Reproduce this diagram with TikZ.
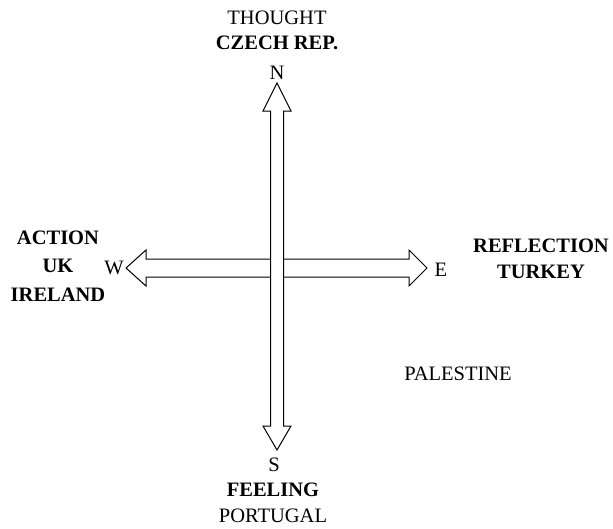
\documentclass[tikz,border=0pt]{standalone}
\usepackage{fontspec}
\setmainfont{Liberation Serif}[BoldFont={Liberation Serif Bold},ItalicFont={Liberation Serif Italic}]
\begin{document}
\begin{tikzpicture}[x=1pt,y=-1pt,
  lbl/.style={inner sep=0pt,font=\fontsize{20.5}{24}\selectfont},
  blbl/.style={inner sep=0pt,font=\fontsize{20.5}{24}\selectfont\bfseries},
  arrowshape/.style={draw=black,fill=white,line width=1pt,line join=miter}]
\useasboundingbox (0,0) rectangle (613,528);
% horizontal double arrow
\draw[arrowshape] (126,268) -- (146,250) -- (146,259) -- (409,259) -- (409,250) -- (427,268)
  -- (409,286) -- (409,277) -- (146,277) -- (146,286) -- cycle;
% vertical double arrow
\draw[arrowshape] (277,83) -- (291,111) -- (283.5,111) -- (283.5,426) -- (291,426) -- (277,450)
  -- (263,426) -- (270.5,426) -- (270.5,111) -- (263,111) -- cycle;
% labels
\node[lbl] (n) at (277,73) {N};
\node[lbl] (thought) at (277,18) {THOUGHT};
\node[blbl] (czech) at (277,43) {CZECH REP.};
\node[lbl] (w) at (114,268) {W};
\node[blbl] (action) at (58,238) {ACTION};
\node[blbl] (uk) at (58,266) {UK};
\node[blbl] (ireland) at (58,295) {IRELAND};
\node[lbl] (e) at (441,270) {E};
\node[blbl] (refl) at (541,246) {REFLECTION};
\node[blbl] (turkey) at (541,272) {TURKEY};
\node[lbl] (pal) at (458,374) {PALESTINE};
\node[lbl] (s) at (274,465) {S};
\node[blbl] (feel) at (273,490) {FEELING};
\node[lbl] (port) at (273,516) {PORTUGAL};
\end{tikzpicture}
\end{document}
